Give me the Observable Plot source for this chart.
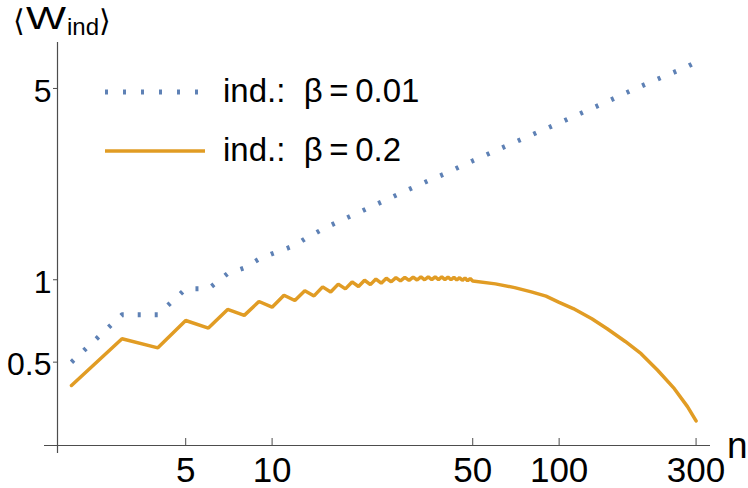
<!DOCTYPE html>
<html>
<head>
<meta charset="utf-8">
<script src="https://cdn.jsdelivr.net/npm/d3@7"></script>
<script src="https://cdn.jsdelivr.net/npm/@observablehq/plot@0.6"></script>
<style>
  html, body { margin: 0; padding: 0; background: #fff; }
  #wrap { position: relative; width: 748px; height: 488px; overflow: hidden; font-family: "Liberation Sans", Arial, sans-serif; }
  #wrap > svg { position: absolute; left: 0; top: 0; }
  #overlay { position: absolute; left: 0; top: 0; pointer-events: none; }
</style>
</head>
<body>
<div id="wrap"></div>
<script>
// ---- data ----
// series "ind.: β = 0.01" (dotted blue)
const nBeta001 = [2, 3, 4, 5, 6, 7, 8, 9, 10, 11, 12, 13, 14, 15, 17, 20, 25, 30, 35, 40, 50, 60, 70, 80, 92, 100, 125, 150, 168, 200, 250, 275, 300];
const wBeta001 = [0.500, 0.745, 0.745, 0.927, 0.927, 1.053, 1.105, 1.19, 1.245, 1.29, 1.335, 1.41, 1.47, 1.53, 1.63, 1.76, 1.96, 2.14, 2.30, 2.44, 2.72, 2.96, 3.18, 3.38, 3.60, 3.74, 4.15, 4.52, 4.78, 5.18, 5.72, 5.96, 6.24];

// series "ind.: β = 0.2" (solid orange)
const nBeta02 = [2, 3, 4, 5, 6, 7, 8, 9, 10, 11, 12, 13, 14, 15, 16, 17, 18, 19, 20,
  21, 22, 23, 24, 25, 26, 27, 28, 29, 30, 31, 32, 33, 34, 35, 36, 37, 38, 39, 40,
  41, 42, 43, 44, 45, 46, 47, 48, 49, 50,
  60, 70, 80, 90, 100, 112, 130, 147, 170, 193, 220, 252, 280, 300];
const wBeta02 = [0.411, 0.609, 0.564, 0.710, 0.666, 0.779, 0.741, 0.833, 0.794, 0.878, 0.840, 0.912, 0.873, 0.942, 0.902, 0.964, 0.926, 0.982, 0.945,
  0.996, 0.960, 1.006, 0.972, 1.013, 0.983, 1.018, 0.990, 1.021, 0.995, 1.023, 0.998, 1.025, 1.000, 1.025, 1.001, 1.025, 1.002, 1.024, 1.002,
  1.023, 1.000, 1.021, 0.998, 1.018, 0.995, 1.015, 0.991, 1.011, 0.990,
  0.966, 0.936, 0.903, 0.871, 0.827, 0.785, 0.720, 0.662, 0.595, 0.537, 0.468, 0.400, 0.344, 0.305];

// axes
const xTicks = [5, 10, 50, 100, 300];
const yTicks = [0.5, 1, 5];
const xDomain = [1.788, 336.8];
const yDomain = [0.248, 7.36];

const legendLabels = ["ind.:\u00A0\u00A0\u03B2\u2009=\u20090.01", "ind.:\u00A0\u00A0\u03B2\u2009=\u20090.2"];
const colors = ["#5E81B5", "#E19C24"];

// ---- build ----
const data001 = nBeta001.map((n, i) => ({n, w: wBeta001[i]}));
const data02 = nBeta02.map((n, i) => ({n, w: wBeta02[i]}));
const axisColor = "#4d4d4d";

const chart = Plot.plot({
  width: 748,
  height: 488,
  marginLeft: 57,
  marginRight: 38,
  marginTop: 42,
  marginBottom: 43,
  x: {type: "log", domain: xDomain},
  y: {type: "log", domain: yDomain},
  style: {fontFamily: "'Liberation Sans', Arial, sans-serif", background: "white", color: "black", overflow: "visible"},
  marks: [
    Plot.ruleY([yDomain[0]], {stroke: axisColor, strokeWidth: 1.2, insetLeft: -13}),
    Plot.ruleX([xDomain[0]], {stroke: axisColor, strokeWidth: 1.2, insetBottom: -8}),
    Plot.axisX(xTicks, {tickSize: 7, dy: -7, fill: "none", stroke: axisColor, label: null}),
    Plot.text(xTicks, {x: d => d, text: d => String(d), frameAnchor: "bottom", lineAnchor: "top", dy: 12, fontSize: 35, fill: "black"}),
    Plot.axisY(yTicks, {tickSize: 4, fill: "none", stroke: axisColor, label: null}),
    Plot.text(yTicks, {y: d => d, text: d => String(d), frameAnchor: "left", textAnchor: "end", dx: -6, dy: 3, fontSize: 32, fill: "black"}),
    Plot.line(data02, {x: "n", y: "w", stroke: colors[1], strokeWidth: 3.5, strokeLinejoin: "miter"}),
    Plot.line(data001, {x: "n", y: "w", stroke: colors[0], strokeWidth: 4.8, strokeDasharray: "3,14", strokeLinecap: "butt"})
  ]
});

const wrap = document.getElementById("wrap");
wrap.appendChild(chart);

// overlay: axis titles and legend (real text)
const ns = "http://www.w3.org/2000/svg";
const ov = document.createElementNS(ns, "svg");
ov.setAttribute("id", "overlay");
ov.setAttribute("width", 748);
ov.setAttribute("height", 488);
ov.innerHTML = `
  <g font-family="'Liberation Sans', Arial, sans-serif" fill="black">
    <text x="13" y="31" font-size="30" font-family="'DejaVu Sans', sans-serif">\u27E8</text>
    <text x="26" y="29" font-size="31" textLength="40" lengthAdjust="spacingAndGlyphs">W</text>
    <text x="67" y="35" font-size="24">ind</text>
    <text x="99" y="31" font-size="30" font-family="'DejaVu Sans', sans-serif">\u27E9</text>
    <text x="727" y="458" font-size="37">n</text>
    <line x1="105" x2="200" y1="92" y2="92" stroke="${colors[0]}" stroke-width="4.8" stroke-dasharray="3,15"/>
    <text x="223" y="102" font-size="33">${legendLabels[0]}</text>
    <line x1="105" x2="205" y1="151" y2="151" stroke="${colors[1]}" stroke-width="3.5"/>
    <text x="223" y="161" font-size="33">${legendLabels[1]}</text>
  </g>`;
wrap.appendChild(ov);
</script>
</body>
</html>
